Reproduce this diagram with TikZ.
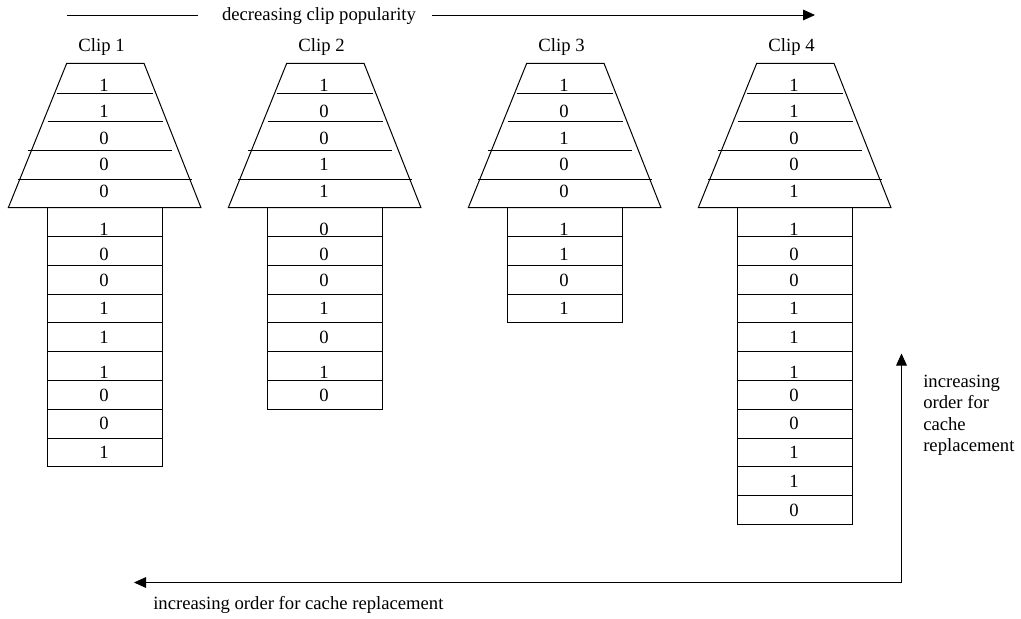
\documentclass[tikz,border=0pt]{standalone}
\usepackage{fontspec}
\setmainfont{Liberation Serif}
\usetikzlibrary{arrows.meta}
\begin{document}
\begin{tikzpicture}[x=0.75pt,y=-0.75pt,
  shapeline/.style={draw=black,line width=0.75pt},
  digit/.style={inner sep=0pt,font=\fontsize{14}{16}\selectfont},
  lbl/.style={inner sep=0pt,font=\fontsize{14}{16}\selectfont},
  arr/.style={line width=0.75pt},
  tip/.tip={Triangle[length=9pt,width=8pt]}]
\useasboundingbox (0,0) rectangle (1021,618);

\newcommand\drawclip[5]{%
  \begin{scope}[shift={(#1,0)}]
    \node[lbl,anchor=base] (#5-label) at (101.5,51.5) {#2};
    \draw[shapeline] (66.7,63.3) -- (144,63.3) -- (201,207.7) -- (8.3,207.7) -- cycle;
    \draw[shapeline] (56.7,93.3) -- (153.3,93.3);
    \draw[shapeline] (47.7,121.7) -- (162.7,121.7);
    \draw[shapeline] (27.7,150.7) -- (172.3,150.7);
    \draw[shapeline] (18.3,179.3) -- (191.7,179.3);
    \foreach \v [count=\i] in {#3} {
      \pgfmathsetmacro\ty{{85,111.7,138.3,164,191.7}[\i-1]}
      \node[digit] (#5-t\i) at (104,\ty) {\v};
    }
    \foreach \v [count=\i] in {#4} {
      \draw[shapeline] (47.7,{207.7+28.8*(\i-1)}) rectangle (162.7,{207.7+28.8*\i});
      \pgfmathsetmacro\off{{7,3,1,0,0,6,0,0,0,0,0}[\i-1]}
      \node[digit] (#5-r\i) at (104,{222.1+28.8*(\i-1)+\off}) {\v};
    }
  \end{scope}}

\drawclip{0}{Clip 1}{1,1,0,0,0}{1,0,0,1,1,1,0,0,1}{c1}
\drawclip{220}{Clip 2}{1,0,0,1,1}{0,0,0,1,0,1,0}{c2}
\drawclip{460}{Clip 3}{1,0,1,0,0}{1,1,0,1}{c3}
\drawclip{690}{Clip 4}{1,1,0,0,1}{1,0,0,1,1,1,0,0,1,1,0}{c4}

% top arrow
\node[lbl,anchor=base] (pop) at (319,20) {decreasing clip popularity};
\coordinate (popL) at (67,15);
\coordinate (popA) at (198,15);
\coordinate (popB) at (432,15);
\coordinate (popR) at (815,15);
\draw[arr] (popL) -- (popA);
\draw[arr,-tip] (popB) -- (popR);

% replacement order arrows
\coordinate (corner) at (901.5,582.5);
\coordinate (upTip) at (901.5,353.5);
\coordinate (leftTip) at (134,582.5);
\draw[arr,tip-tip] (upTip) -- (corner) -- (leftTip);

\node[lbl,align=left,anchor=north west] (rtxt) at (923,375)
  {increasing\\order for\\cache\\replacement};
\node[lbl,anchor=base west] (btxt) at (153,609)
  {increasing order for cache replacement};
\end{tikzpicture}
\end{document}
